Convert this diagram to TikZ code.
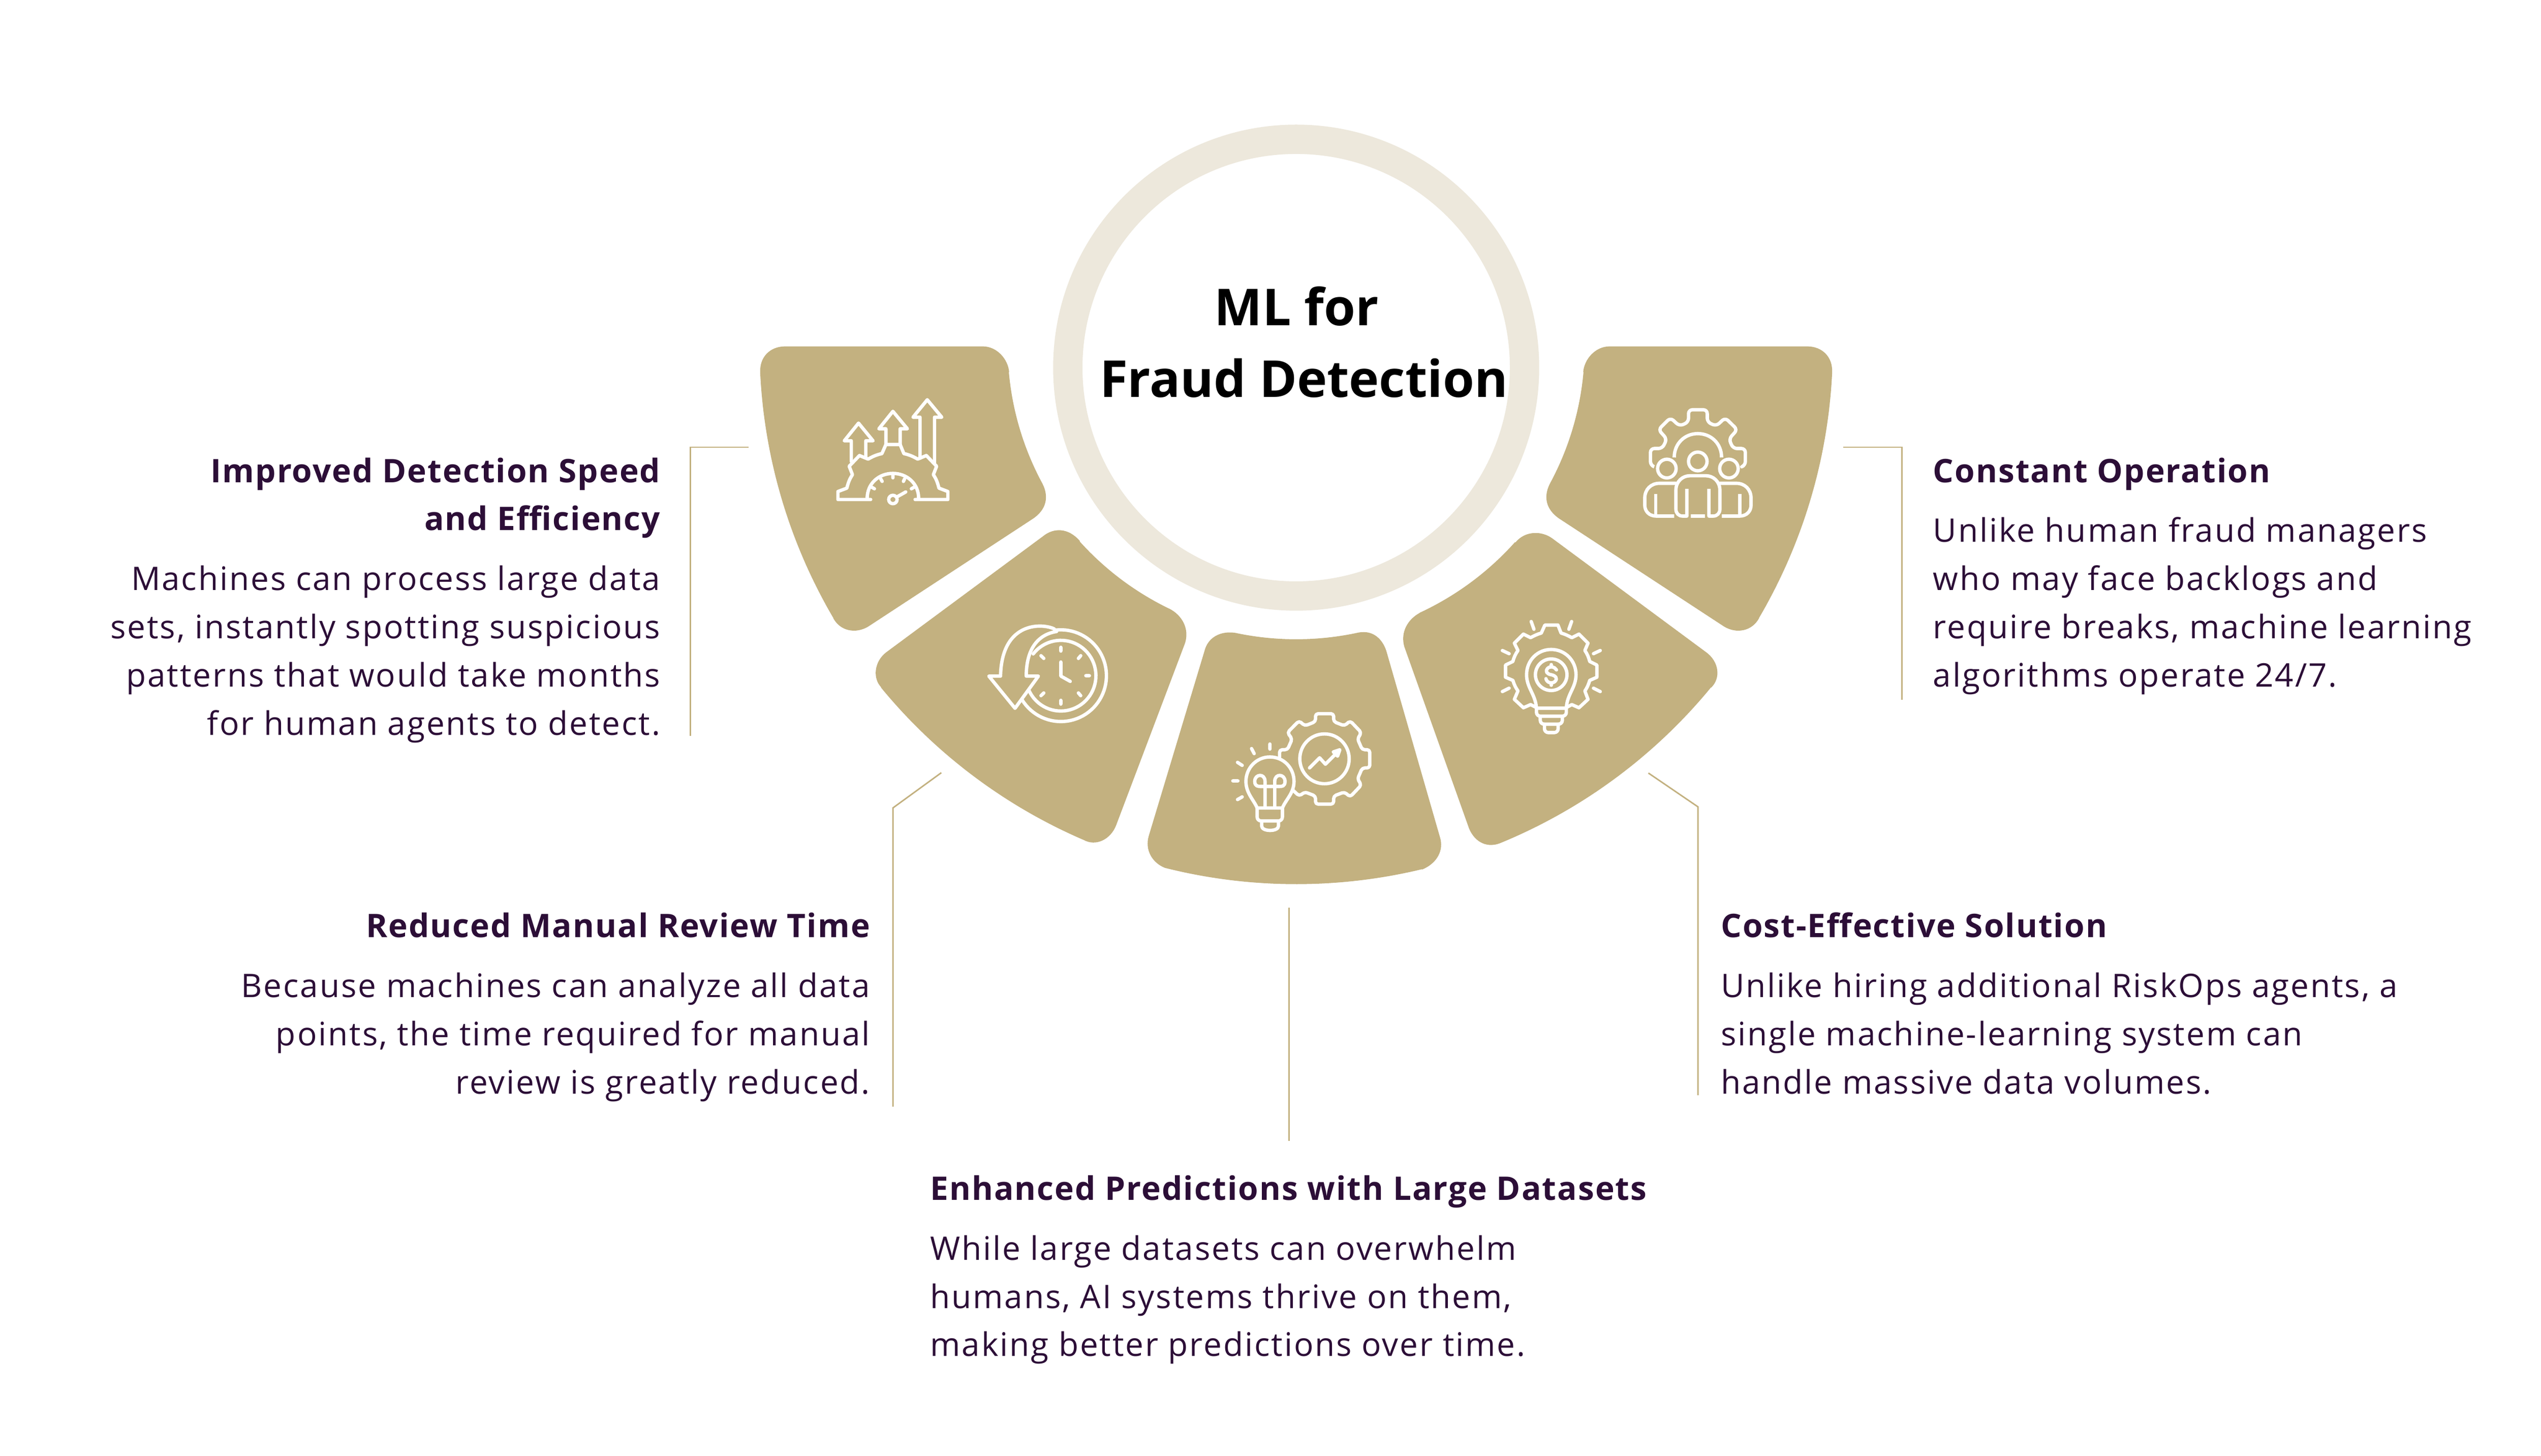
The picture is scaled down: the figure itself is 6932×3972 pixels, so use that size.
\documentclass[tikz,border=0pt]{standalone}
\usepackage{fontspec}
\setmainfont{Open Sans}[LetterSpace=4.5,BoldFeatures={LetterSpace=3.2}]
\newfontfamily\titlefont{Open Sans}
\definecolor{gold}{HTML}{C3B180}
\definecolor{ringc}{HTML}{EDE8DC}
\definecolor{ink}{HTML}{2C0E37}
\newcommand{\firstl}{\rule{0pt}{10mm}}
\newcommand{\headgap}{\\[3.2mm]}
\tikzset{
  piece/.style={fill=gold,draw=none},
  iconline/.style={draw=white,line width=0.92mm,line cap=round,line join=round,fill=none},
  lead/.style={draw=gold,line width=0.4mm,line cap=butt,line join=miter},
  blockr/.style={anchor=north east,inner sep=0pt,align=right,text=ink,font=\fontsize{25.2pt}{37.4pt}\selectfont},
  blockl/.style={anchor=north west,inner sep=0pt,align=left,text=ink,font=\fontsize{25.2pt}{37.4pt}\selectfont},
  titlet/.style={anchor=base,inner sep=0pt,text=black,font=\titlefont\fontsize{39.5pt}{50pt}\selectfont\bfseries}
}
\begin{document}
\begin{tikzpicture}[x=0.1mm,y=-0.1mm]
\useasboundingbox (0,0) rectangle (6932,3972);
\fill[white] (0,0) rectangle (6932,3972);
% ring
\draw[ringc,line width=8mm] (3536,1003) circle [radius=623];
% piece 1 and its mirror
\foreach \tr in {{xscale=1},{shift={(7072,0)},xscale=-1}}{
\begin{scope}[/utils/exec=\expandafter\tikzset\expandafter{\tr}]
\fill[piece] (2074,1015) .. controls (2072,975) and (2100,945) .. (2142,945) -- (2681,945)
  .. controls (2720,945) and (2750,980) .. (2753,1015)
  -- plot[domain=174.9:151.6,samples=40] ({3536+787*cos(\x)},{945+787*sin(\x)})
  .. controls (2862,1355) and (2855,1390) .. (2818,1415) -- (2369,1709)
  .. controls (2335,1730) and (2292,1722) .. (2273,1686)
  -- plot[domain=149.6:177.26,samples=40] ({3536+1464*cos(\x)},{945+1464*sin(\x)}) -- cycle;
\end{scope}
}
% piece 2
\fill[piece] (2946,1476) .. controls (2915,1440) and (2875,1438) .. (2844,1464) -- (2417,1780)
  .. controls (2385,1805) and (2380,1850) .. (2404,1875)
  -- plot[domain=140.6:113.3,samples=40] ({3536+1466*cos(\x)},{945+1466*sin(\x)})
  .. controls (2990,2310) and (3030,2290) .. (3045,2251) -- (3233,1754)
  .. controls (3245,1715) and (3225,1678) .. (3189,1660)
  -- plot[domain=115.9:138,samples=40] ({3536+795*cos(\x)},{945+795*sin(\x)}) -- cycle;
% piece 3
\fill[piece] (3373,1727) -- plot[domain=101.8:77.7,samples=40] ({3536+799*cos(\x)},{945+799*sin(\x)})
  .. controls (3747,1718) and (3772,1745) .. (3782,1776) -- (3928,2283)
  .. controls (3940,2320) and (3920,2355) .. (3880,2372)
  -- plot[domain=76.45:104.1,samples=40] ({3536+1467*cos(\x)},{945+1467*sin(\x)})
  .. controls (3145,2355) and (3122,2320) .. (3134,2280) -- (3288,1769)
  .. controls (3300,1735) and (3335,1720) .. (3373,1727) -- cycle;
% piece 4
\fill[piece] (4134,1480) .. controls (4160,1448) and (4205,1447) .. (4235,1469) -- (4654,1779)
  .. controls (4690,1805) and (4695,1850) .. (4668,1876)
  -- plot[domain=39.4:67.5,samples=40] ({3536+1465*cos(\x)},{945+1465*sin(\x)})
  .. controls (4060,2315) and (4025,2300) .. (4008,2261) -- (3831,1764)
  .. controls (3820,1725) and (3840,1690) .. (3873,1672)
  -- plot[domain=65.1:41.8,samples=40] ({3536+801*cos(\x)},{945+801*sin(\x)}) -- cycle;

% icon 1
\begin{scope}[shift={(2050,900)},xscale=0.6378,yscale=0.5740,iconline]
\draw (427,625) -- (427,527) -- (397,527) -- (458,443) -- (520,527) -- (489,527) -- (489,605);
\draw (575,545) -- (575,470) -- (545,470) -- (605,387) -- (667,470) -- (636,470) -- (636,545) -- cycle;
\draw (721,610) -- (721,415) -- (691,415) -- (752,332) -- (814,415) -- (783,415) -- (783,635);
\draw (510,806) -- (370,806) -- (370,768) -- (408,752) .. controls (414,725) and (420,708) .. (432,688) -- (418,648) -- (462,597) -- (499,614) .. controls (518,602) and (535,593) .. (558,588) -- (575,545);
\draw (636,545) -- (652,588) .. controls (675,593) and (692,602) .. (711,614) -- (748,597) -- (792,648) -- (778,688) .. controls (790,708) and (796,725) .. (802,752) -- (840,768) -- (840,806) -- (700,806);
\draw (495,800) .. controls (495,730) and (545,682) .. (605,682) .. controls (665,682) and (715,730) .. (715,800);
\draw (605,690) -- (605,703) (553,708) -- (559,720) (655,708) -- (650,720) (515,748) -- (526,755) (695,748) -- (684,755);
\draw (605,806) ellipse [x radius=18,y radius=20];
\draw (625,792) -- (660,770);
\end{scope}

% icon 2
\begin{scope}[shift={(2350,1430)},xscale=0.6378,yscale=0.5740,iconline]
\draw plot[domain=-97:148,samples=60] ({853+195*cos(\x)},{720+218*sin(\x)});
\draw plot[domain=-142:155,samples=60] ({853+150*cos(\x)},{720+168*sin(\x)});
\draw (853,585) -- (853,603) (853,837) -- (853,855) (960,720) -- (975,720)
  (768,625) -- (780,638) (938,625) -- (928,638) (768,815) -- (780,802) (938,815) -- (928,802);
\draw (853,655) -- (853,722) -- (893,747);
\draw (825,498) .. controls (780,472) and (600,455) .. (595,722) -- (545,722) -- (657,875) -- (757,722) -- (705,722) .. controls (705,600) and (750,525) .. (835,510);
\end{scope}

% icon 3
\begin{scope}[shift={(3150,1700)},xscale=0.5102,yscale=0.4592,iconline]
\draw[rounded corners=2pt] (742,995) -- (773,1027) -- (803,1003) -- (860,1027) -- (860,1075) -- (957,1075) -- (957,1027) -- (1015,1003) -- (1045,1032) -- (1105,962) -- (1085,925) -- (1110,860) -- (1150,860) -- (1150,752) -- (1110,752) -- (1085,688) -- (1105,650) -- (1045,580) -- (1015,610) -- (957,585) -- (957,538) -- (860,538) -- (860,585) -- (803,610) -- (772,580) -- (710,650) -- (735,688) -- (710,752) -- (668,752) -- (668,795);
\draw (908,806) ellipse [x radius=132,y radius=148];
\draw (828,860) -- (882,800) -- (913,838) -- (970,775);
\fill[white,draw=white] (955,765) -- (990,752) -- (978,790) -- cycle;
\draw (548,1098) .. controls (530,1050) and (488,1010) .. (488,940) .. controls (488,860) and (545,795) .. (616,795) .. controls (690,795) and (745,860) .. (745,940) .. controls (745,1010) and (700,1050) .. (683,1098) -- cycle;
\draw[rounded corners=3pt] (548,1098) -- (548,1175) -- (683,1175) -- (683,1098);
\draw (572,1178) -- (572,1205) .. controls (572,1240) and (662,1240) .. (662,1205) -- (662,1178);
\draw (590,1098) -- (590,940) .. controls (590,890) and (535,895) .. (535,940) .. controls (535,970) and (555,970) .. (565,970) -- (667,970) .. controls (680,970) and (697,970) .. (697,940) .. controls (697,895) and (642,890) .. (642,940) -- (642,1098);
\draw (616,718) -- (616,748) (518,745) -- (532,775) (443,827) -- (468,845) (418,937) -- (445,937) (443,1048) -- (468,1032);
\end{scope}

% icon 4
\begin{scope}[shift={(3850,1440)},xscale=0.5740,yscale=0.5740,iconline]
\draw (597,855) -- (567,840) -- (533,855) -- (490,815) -- (507,775) .. controls (495,758) and (488,742) .. (483,725) -- (448,710) -- (448,652) -- (483,635) .. controls (488,615) and (495,600) .. (507,583) -- (490,548) -- (533,505) -- (567,522) .. controls (585,512) and (600,505) .. (618,500) -- (635,462) -- (697,462) -- (712,500) .. controls (730,505) and (745,512) .. (763,522) -- (797,505) -- (840,548) -- (825,583) .. controls (837,600) and (843,615) .. (848,635) -- (882,652) -- (882,710) -- (848,725) .. controls (843,742) and (837,758) .. (825,775) -- (840,815) -- (797,855) -- (763,840) -- (735,855);
\draw (595,857) .. controls (590,790) and (548,760) .. (548,698) .. controls (548,630) and (600,578) .. (665,578) .. controls (730,578) and (783,630) .. (783,698) .. controls (783,760) and (740,790) .. (737,857) -- cycle;
\draw[rounded corners=3pt] (595,857) -- (595,895) -- (737,895) -- (737,857);
\draw[rounded corners=3pt] (613,895) -- (613,933) -- (718,933) -- (718,895);
\draw[rounded corners=3pt] (633,933) -- (633,973) -- (698,973) -- (698,933);
\draw (665,698) circle [radius=75];
\draw (690,675) .. controls (682,660) and (660,655) .. (648,668) .. controls (635,682) and (645,695) .. (665,698) .. controls (685,702) and (698,715) .. (683,730) .. controls (670,742) and (645,738) .. (640,717);
\draw (665,650) -- (665,660) (665,738) -- (665,748);
\draw (570,445) -- (583,482) (762,445) -- (749,482) (433,583) -- (465,598) (898,583) -- (866,598) (433,778) -- (465,762) (898,778) -- (866,762);
\end{scope}

% icon 5
\begin{scope}[shift={(4200,920)},xscale=0.5740,yscale=0.5421,iconline,line cap=butt]
\draw[rounded corners=3pt] (545,652) -- (527,645) -- (527,560) -- (583,560) -- (605,512) -- (565,465) -- (622,405) -- (665,447) -- (708,427) -- (708,365) -- (797,365) -- (797,427) -- (840,447) -- (882,405) -- (940,465) -- (900,512) -- (920,560) -- (978,560) -- (978,645) -- (961,652);
\draw (640,605) .. controls (640,535) and (690,485) .. (752,485) .. controls (815,485) and (865,535) .. (865,605);
\draw (752,625) ellipse [x radius=44,y radius=47];
\draw (605,661) ellipse [x radius=44,y radius=47];
\draw (900,661) ellipse [x radius=44,y radius=47];
\draw (700,763) -- (700,900) -- (680,900) .. controls (660,900) and (648,885) .. (648,865) -- (648,770) .. controls (648,725) and (680,697) .. (715,697) -- (790,697) .. controls (825,697) and (857,725) .. (857,770) -- (857,865) .. controls (857,885) and (845,900) .. (825,900) -- (805,900) -- (805,763);
\draw (718,900) -- (787,900);
\draw (640,900) -- (555,900) .. controls (520,900) and (500,875) .. (500,845) -- (500,810) .. controls (500,765) and (530,735) .. (570,735) -- (650,735);
\draw (552,790) -- (552,895);
\draw (866,900) -- (950,900) .. controls (985,900) and (1005,875) .. (1005,845) -- (1005,810) .. controls (1005,765) and (975,735) .. (935,735) -- (855,735);
\draw (952,790) -- (952,895);
\end{scope}

% connectors
\coordinate (l1a) at (2042,1220); \coordinate (l1b) at (1884,1220); \coordinate (l1c) at (1884,2008);
\coordinate (l2a) at (2568,2108); \coordinate (l2b) at (2436,2204); \coordinate (l2c) at (2436,3019);
\coordinate (l3a) at (3516,2476); \coordinate (l3b) at (3516,3112);
\coordinate (l4a) at (4497,2109); \coordinate (l4b) at (4632,2201); \coordinate (l4c) at (4632,2988);
\coordinate (l5a) at (5028,1220); \coordinate (l5b) at (5189,1220); \coordinate (l5c) at (5189,1909);
\draw[lead] (l1a) -- (l1b) -- (l1c);
\draw[lead] (l2a) -- (l2b) -- (l2c);
\draw[lead] (l3a) -- (l3b);
\draw[lead] (l4a) -- (l4b) -- (l4c);
\draw[lead] (l5a) -- (l5b) -- (l5c);

% title
\node[titlet] (t1) at (3537,888) {ML for};
\node[titlet] (t2) at (3557,1084) {Fraud Detection};

% text blocks
\node[blockr] (b1) at (1802,1215) {\firstl\bfseries Improved Detection Speed\\\bfseries and Efficiency\headgap
Machines can process large data\\sets, instantly spotting suspicious\\patterns that would take months\\for human agents to detect.};
\node[blockr] (b2) at (2374,2457) {\firstl\bfseries Reduced Manual Review Time\headgap
Because machines can analyze all data\\points, the time required for manual\\review is greatly reduced.};
\node[blockl] (b3) at (2537,3173) {\firstl\bfseries Enhanced Predictions with Large Datasets\headgap
While large datasets can overwhelm\\humans, AI systems thrive on them,\\making better predictions over time.};
\node[blockl] (b4) at (4694,2457) {\firstl\bfseries Cost-Effective Solution\headgap
Unlike hiring additional RiskOps agents, a\\single machine-learning system can\\handle massive data volumes.};
\node[blockl] (b5) at (5273,1215) {\firstl\bfseries Constant Operation\headgap
Unlike human fraud managers\\who may face backlogs and\\require breaks, machine learning\\algorithms operate 24/7.};
\end{tikzpicture}
\end{document}
